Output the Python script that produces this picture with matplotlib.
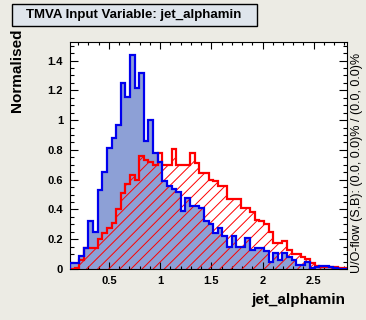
import numpy as np
import matplotlib
matplotlib.use("Agg")
import matplotlib.pyplot as plt
from matplotlib.patches import FancyBboxPatch

# histogram range and binning
x_min, x_max, n_bins = 0.12, 2.825, 60

# signal (blue), normalised
signal = [0.04, 0.04, 0.085, 0.14, 0.32, 0.25, 0.53, 0.65, 0.81, 0.88,
          0.97, 1.25, 1.155, 1.44, 1.215, 1.315, 0.857, 1.0, 0.78, 0.72,
          0.59, 0.555, 0.54, 0.52, 0.39, 0.48, 0.42, 0.42, 0.41, 0.32,
          0.30, 0.24, 0.275, 0.22, 0.15, 0.22, 0.15, 0.15, 0.21, 0.13,
          0.14, 0.14, 0.12, 0.05, 0.11, 0.06, 0.11, 0.08, 0.06, 0.03,
          0.03, 0.05, 0.01, 0.015, 0.02, 0.02, 0.015, 0.005, 0.0, 0.0]

# background (red, hatched), normalised
background = [0.0, 0.005, 0.06, 0.14, 0.14, 0.14, 0.2, 0.24, 0.275, 0.31,
              0.40, 0.51, 0.57, 0.63, 0.60, 0.76, 0.73, 0.72, 0.70, 0.78,
              0.70, 0.70, 0.805, 0.70, 0.70, 0.70, 0.78, 0.71, 0.645, 0.645,
              0.60, 0.59, 0.555, 0.555, 0.47, 0.47, 0.47, 0.41, 0.41, 0.385,
              0.33, 0.32, 0.30, 0.25, 0.175, 0.175, 0.19, 0.125, 0.10, 0.10,
              0.08, 0.07, 0.04, 0.02, 0.015, 0.015, 0.012, 0.015, 0.005, 0.005]

x_ticks = [0.5, 1.0, 1.5, 2.0, 2.5]
x_tick_labels = ["0.5", "1", "1.5", "2", "2.5"]
y_ticks = [0, 0.2, 0.4, 0.6, 0.8, 1.0, 1.2, 1.4]
y_tick_labels = ["0", "0.2", "0.4", "0.6", "0.8", "1", "1.2", "1.4"]

edges = np.linspace(x_min, x_max, n_bins + 1)

plt.rcParams["font.family"] = ["Liberation Sans", "DejaVu Sans"]
plt.rcParams["hatch.linewidth"] = 0.7

fig = plt.figure(figsize=(3.66, 3.20), dpi=100, facecolor="#ecebe4")
ax = fig.add_axes([70 / 366, 1 - 269 / 320, 277 / 366, 227 / 320])
ax.set_facecolor("white")

# signal fill, background hatch, then outlines
ax.stairs(signal, edges, fill=True, facecolor="#8da0d6", edgecolor="none",
          linewidth=0, zorder=1)
ax.stairs(background, edges, fill=True, facecolor="none", edgecolor="#ff0000",
          hatch="///", linewidth=0, zorder=2)
ax.stairs(background, edges, fill=False, edgecolor="#ff0000", linewidth=1.6,
          zorder=3)
ax.stairs(signal, edges, fill=False, edgecolor="#0000ee", linewidth=1.6,
          zorder=4)

ax.set_xlim(x_min, x_max)
ax.set_ylim(0, 1.525)

ax.set_xticks(x_ticks)
ax.set_xticklabels(x_tick_labels, fontweight="bold", fontsize=8)
ax.set_xticks(np.arange(0.2, 2.81, 0.1), minor=True)
ax.set_yticks(y_ticks)
ax.set_yticklabels(y_tick_labels, fontweight="bold", fontsize=8)
ax.set_yticks(np.arange(0, 1.52, 0.05), minor=True)

ax.tick_params(axis="both", which="both", direction="in", top=True, right=True,
               width=0.8, pad=5)
ax.tick_params(axis="x", which="major", length=4.9)
ax.tick_params(axis="x", which="minor", length=2.4)
ax.tick_params(axis="y", which="major", length=6)
ax.tick_params(axis="y", which="minor", length=3)
for s in ax.spines.values():
    s.set_linewidth(0.8)

# axis titles
fig.text(345 / 366, 1 - 300 / 320, "jet_alphamin", ha="right", va="center",
         fontsize=11, fontweight="bold")
fig.text(17 / 366, 1 - 28 / 320, "Normalised", ha="center", va="top",
         rotation=90, fontsize=11, fontweight="bold")
fig.text(357 / 366, 1 - 273 / 320, "U/O-flow (S,B): (0.0, 0.0)% / (0.0, 0.0)%",
         ha="center", va="bottom", rotation=90, fontsize=9)

# title box
box = FancyBboxPatch((12 / 366, 1 - 26 / 320), 245 / 366, 22 / 320,
                     boxstyle="square,pad=0", transform=fig.transFigure,
                     facecolor="#dfe5ec", edgecolor="black", linewidth=1.0)
fig.patches.append(box)
fig.text(134 / 366, 1 - 15 / 320, "TMVA Input Variable: jet_alphamin",
         ha="center", va="center", fontsize=9.5, fontweight="bold")

fig.savefig("out.png", dpi=100, facecolor=fig.get_facecolor())
